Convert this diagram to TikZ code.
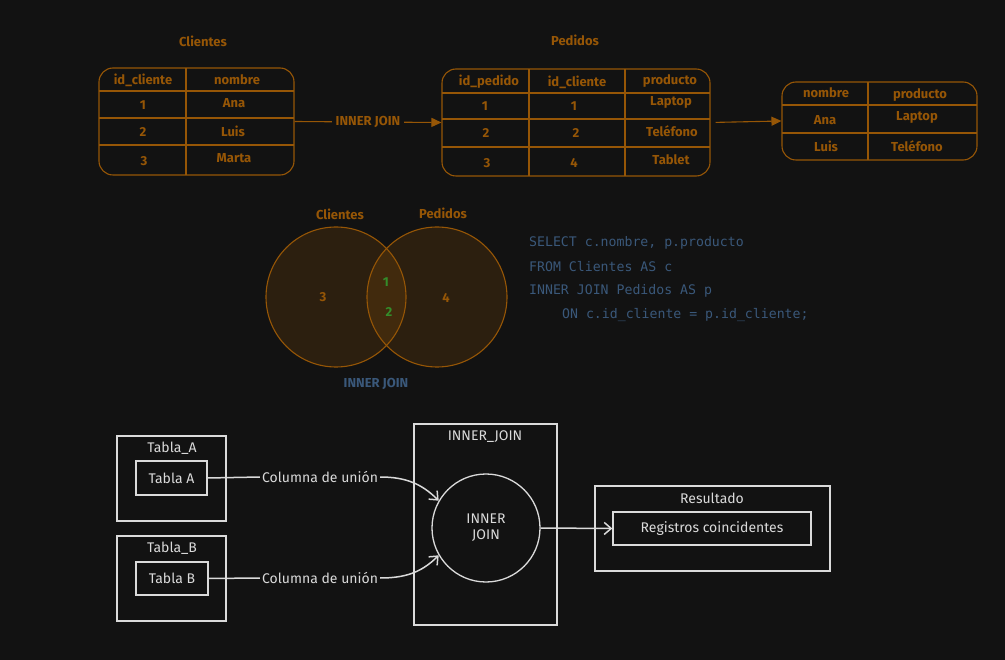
\documentclass[tikz,border=0pt]{standalone}
\usepackage{fontspec}
\setmainfont{Fira Sans}
\setmonofont{DejaVu Sans Mono}
\usetikzlibrary{arrows.meta,positioning}
\definecolor{fondo}{RGB}{18,18,18}
\definecolor{naranja}{RGB}{150,86,6}
\definecolor{verde}{RGB}{52,140,42}
\definecolor{azul}{RGB}{58,88,122}
\definecolor{tiza}{RGB}{218,218,218}

\begin{document}
\begin{tikzpicture}[x=1pt, y=-1pt,
		tabla/.style={draw=naranja, line width=1.1pt, rounded corners=14pt, inner sep=0pt},
		rejilla/.style={draw=naranja, line width=1.1pt},
		celda/.style={text=naranja, font=\bfseries\fontsize{13}{15}\selectfont, inner sep=1pt},
		venn/.style={circle, draw=naranja, line width=1.1pt, fill=naranja, fill opacity=0.2, text opacity=1, minimum size=140pt},
		codigo/.style={text=azul, font=\ttfamily\fontsize{13.2}{16}\selectfont, anchor=west, inner sep=0pt},
		caja/.style={draw=tiza, line width=1.3pt, inner sep=0pt},
		mano/.style={text=tiza, font=\fontsize{14}{16}\selectfont, inner sep=2pt},
		trazo/.style={draw=tiza, line width=1.5pt},
		flecha/.style={-{Straight Barb[length=7pt, width=12pt]}}]

		\fill[fondo]	(0, 0) rectangle (1005, 660);
		\useasboundingbox	(0, 0) rectangle (1005, 660);

		% tabla Clientes
		\node[celda]	(tituloClientes) at (203, 41) {Clientes};
		\node[tabla, minimum width=195pt, minimum height=107pt]	(clientes) at (196.5, 121.5) {};
		\draw[rejilla]	(186, 68) to (186, 175)
						(99, 91) to (294, 91)
						(99, 118) to (294, 118)
						(99, 145) to (294, 145);
		\node[celda]	(cli01) at (143, 80) {id\_cliente};
		\node[celda]	(cli02) at (237, 80) {nombre};
		\node[celda]	(cli11) at (143, 105) {1};
		\node[celda]	(cli12) at (234, 103) {Ana};
		\node[celda]	(cli21) at (143, 132) {2};
		\node[celda]	(cli22) at (233, 131) {Luis};
		\node[celda]	(cli31) at (144, 161) {3};
		\node[celda]	(cli32) at (234, 158) {Marta};

		% tabla Pedidos
		\node[celda]	(tituloPedidos) at (575, 40) {Pedidos};
		\node[tabla, minimum width=268pt, minimum height=107pt]	(pedidos) at (576, 122.5) {};
		\draw[rejilla]	(529, 69) to (529, 176)
						(625, 69) to (625, 176)
						(442, 93) to (710, 93)
						(442, 119) to (710, 119)
						(442, 147) to (710, 147);
		\node[celda]	(ped01) at (489, 82) {id\_pedido};
		\node[celda]	(ped02) at (577, 82) {id\_cliente};
		\node[celda]	(ped03) at (670, 81) {producto};
		\node[celda]	(ped11) at (485, 106) {1};
		\node[celda]	(ped12) at (574, 106) {1};
		\node[celda]	(ped13) at (671, 102) {Laptop};
		\node[celda]	(ped21) at (486, 133) {2};
		\node[celda]	(ped22) at (576, 133) {2};
		\node[celda]	(ped23) at (672, 131) {Teléfono};
		\node[celda]	(ped31) at (487, 163) {3};
		\node[celda]	(ped32) at (574, 163) {4};
		\node[celda]	(ped33) at (671, 160) {Tablet};

		% tabla resultado
		\node[tabla, minimum width=195pt, minimum height=78pt]	(salida) at (879.5, 121) {};
		\draw[rejilla]	(868, 82) to (868, 160)
						(782, 105) to (977, 105)
						(782, 133) to (977, 133);
		\node[celda]	(sal01) at (826, 93) {nombre};
		\node[celda]	(sal02) at (920, 95) {producto};
		\node[celda]	(sal11) at (825, 120) {Ana};
		\node[celda]	(sal12) at (917, 117) {Laptop};
		\node[celda]	(sal21) at (826, 146) {Luis};
		\node[celda]	(sal22) at (917, 146) {Teléfono};

		\draw[rejilla, -{Triangle[length=10pt, width=9pt]}]	(clientes.east) to node[celda, fill=fondo, inner sep=4pt] (unionTablas) {INNER JOIN} (pedidos.west);
		\draw[rejilla, -{Triangle[length=10pt, width=9pt]}, shorten <=5pt]	(pedidos.east) to (salida.west);

		% diagrama de Venn
		\node[venn]	(vennClientes) at (336, 297) {};
		\node[venn]	(vennPedidos) at (437, 297) {};
		\node[celda]	(etqClientes) at (340, 214) {Clientes};
		\node[celda]	(etqPedidos) at (443, 213) {Pedidos};
		\node[celda]	(soloClientes) at (323, 297) {3};
		\node[celda]	(soloPedidos) at (446, 298) {4};
		\node[celda, text=verde]	(comun1) at (386, 282) {1};
		\node[celda, text=verde]	(comun2) at (389, 312) {2};
		\node[celda, text=azul]	(etqVenn) at (376, 384) {INNER JOIN};

		% consulta
		\node[codigo]	(sql1) at (529, 243) {SELECT c.nombre, p.producto};
		\node[codigo]	(sql2) at (529, 267) {FROM Clientes AS c};
		\node[codigo]	(sql3) at (529, 291) {INNER JOIN Pedidos AS p};
		\node[codigo]	(sql4) at (562, 315) {ON c.id\_cliente = p.id\_cliente;};

		% esquema del INNER JOIN
		\node[caja, minimum width=109pt, minimum height=85pt]	(tablaA) at (171.5, 478.5) {};
		\node[mano]	(tituloA) at (172, 448) {Tabla\_A};
		\node[caja, mano, minimum width=71pt, minimum height=34pt]	(interA) at (171.5, 478) {Tabla A};

		\node[caja, minimum width=109pt, minimum height=85pt]	(tablaB) at (171.5, 578.5) {};
		\node[mano]	(tituloB) at (172, 548) {Tabla\_B};
		\node[caja, mano, minimum width=72pt, minimum height=33pt]	(interB) at (172, 578.5) {Tabla B};

		\node[caja, minimum width=143pt, minimum height=201pt]	(cajaJoin) at (485.5, 524.5) {};
		\node[mano]	(tituloJoin) at (485, 437) {INNER\_JOIN};
		\node[caja, mano, circle, minimum size=108pt, align=center]	(nodoJoin) at (486, 528) {INNER\\JOIN};

		\node[caja, minimum width=235pt, minimum height=85pt]	(cajaResultado) at (712.5, 528.5) {};
		\node[mano]	(tituloResultado) at (712, 498) {Resultado};
		\node[caja, mano, minimum width=198pt, minimum height=33pt]	(registros) at (712, 528.5) {Registros coincidentes};

		\node[mano]	(columnaA) at (320, 477) {Columna de unión};
		\node[mano]	(columnaB) at (320, 578) {Columna de unión};

		\draw[trazo]	(interA.east) to (columnaA.west);
		\draw[trazo, flecha]	(columnaA.east) to[out=0, in=135] (nodoJoin.150);
		\draw[trazo]	(interB.east) to (columnaB.west);
		\draw[trazo, flecha]	(columnaB.east) to[out=0, in=-135] (nodoJoin.210);
		\draw[trazo, flecha]	(nodoJoin.east) to (registros.west);
	\end{tikzpicture}
\end{document}
